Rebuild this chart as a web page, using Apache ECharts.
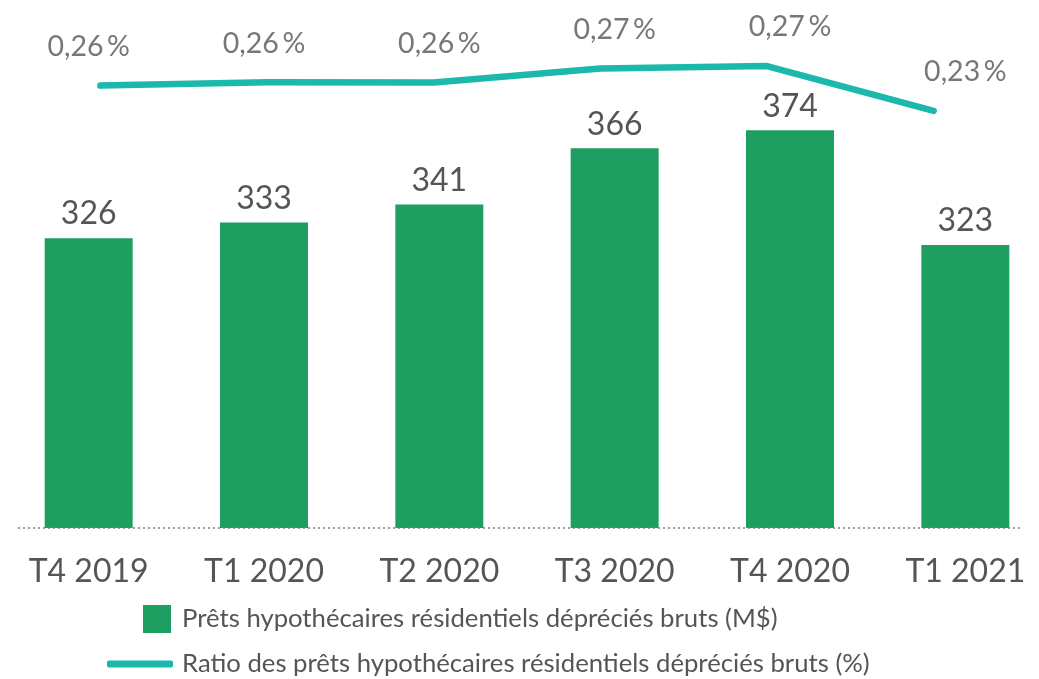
<!DOCTYPE html>
<html lang="fr">
<head>
    <meta charset="utf-8">
    <title>Prêts hypothécaires résidentiels dépréciés</title>
    <script type="text/javascript" src="https://cdn.jsdelivr.net/npm/echarts@6/dist/echarts.min.js"></script>
    <style>
        html, body { margin: 0; padding: 0; background: #fff; }
        #main { width: 1039px; height: 679px; }
    </style>
</head>
<body>
<div id="main"></div>
<script type="text/javascript">
    // données du graphique
    var quarters = ['T4 2019', 'T1 2020', 'T2 2020', 'T3 2020', 'T4 2020', 'T1 2021'];
    var impaired = [326, 333, 341, 366, 374, 323];           // M$
    var ratio = [0.2556, 0.2587, 0.2585, 0.2720, 0.2742, 0.2316]; // %

    var barName = 'Prêts hypothécaires résidentiels dépréciés bruts (M$)';
    var lineName = 'Ratio des prêts hypothécaires résidentiels dépréciés bruts (%)';

    var grey = '#555555', font = 'Lato';

    var myChart = echarts.init(document.getElementById('main'));

    function pct(v) {
        return v.toFixed(2).replace('.', ',') + '\u2009%';
    }

    function $extend(a, b) {
        var o = {}, k;
        for (k in a) o[k] = a[k];
        for (k in b) o[k] = b[k];
        return o;
    }

    var hiddenCat = {
        type: 'category', data: quarters, show: false, boundaryGap: true
    };

    var option = {
        animation: false,
        textStyle: { fontFamily: font },
        grid: [
            // barres
            { left: 1, width: 1052, top: 0, height: 528, outerBoundsMode: 'none', containLabel: false },
            // ligne
            { left: 17, width: 1000, top: 39, height: 315, outerBoundsMode: 'none', containLabel: false },
            // étiquettes du ratio
            { left: 1, width: 1052, top: 39, height: 315, outerBoundsMode: 'none', containLabel: false }
        ],
        xAxis: [
            {
                type: 'category', data: quarters, gridIndex: 0,
                axisLine: { show: false }, axisTick: { show: false },
                axisLabel: { fontSize: 32, color: grey, margin: 28, fontFamily: font }
            },
            $extend(hiddenCat, { gridIndex: 1 }),
            $extend(hiddenCat, { gridIndex: 2 })
        ],
        yAxis: [
            { type: 'value', gridIndex: 0, min: 197, max: 432, show: false },
            { type: 'value', gridIndex: 1, min: 0, max: 0.3, show: false },
            { type: 'value', gridIndex: 2, min: 0, max: 0.3, show: false }
        ],
        legend: [
            {
                data: [barName], left: 143, top: 605, orient: 'vertical', padding: 0,
                itemWidth: 28, itemHeight: 28, icon: 'rect',
                textStyle: { fontSize: 25.7, color: grey, fontFamily: font, padding: [0, 0, 0, 6] }
            },
            {
                data: [lineName], left: 107, top: 651, orient: 'vertical', padding: 0,
                itemWidth: 66, itemHeight: 7, icon: 'roundRect',
                textStyle: { fontSize: 25.7, color: grey, fontFamily: font, padding: [0, 0, 0, 4] }
            }
        ],
        graphic: [{
            type: 'line',
            shape: { x1: 18, y1: 528, x2: 1022, y2: 528 },
            style: { stroke: '#7f7f7f', lineWidth: 1.5, lineDash: [2, 3] },
            z: 10
        }],
        series: [
            {
                name: barName, type: 'bar', xAxisIndex: 0, yAxisIndex: 0,
                data: impaired, barWidth: 88,
                itemStyle: { color: '#1e9e61' },
                label: {
                    show: true, position: 'top', distance: 8,
                    fontSize: 32, color: grey, fontFamily: font
                }
            },
            {
                name: lineName, type: 'line', xAxisIndex: 1, yAxisIndex: 1,
                data: ratio, symbol: 'none',
                lineStyle: { color: '#1bb8ac', width: 6.5, cap: 'round', join: 'round' },
                itemStyle: { color: '#1bb8ac' }
            },
            {
                name: 'ratioLabels', type: 'scatter', xAxisIndex: 2, yAxisIndex: 2,
                data: ratio, symbolSize: 1, silent: true,
                itemStyle: { color: 'rgba(0,0,0,0)' },
                label: {
                    show: true, position: 'top', distance: 24,
                    fontSize: 28.5, color: grey, fontFamily: font,
                    formatter: function (p) { return pct(p.value); }
                }
            }
        ]
    };

    myChart.setOption(option);
</script>
</body>
</html>
